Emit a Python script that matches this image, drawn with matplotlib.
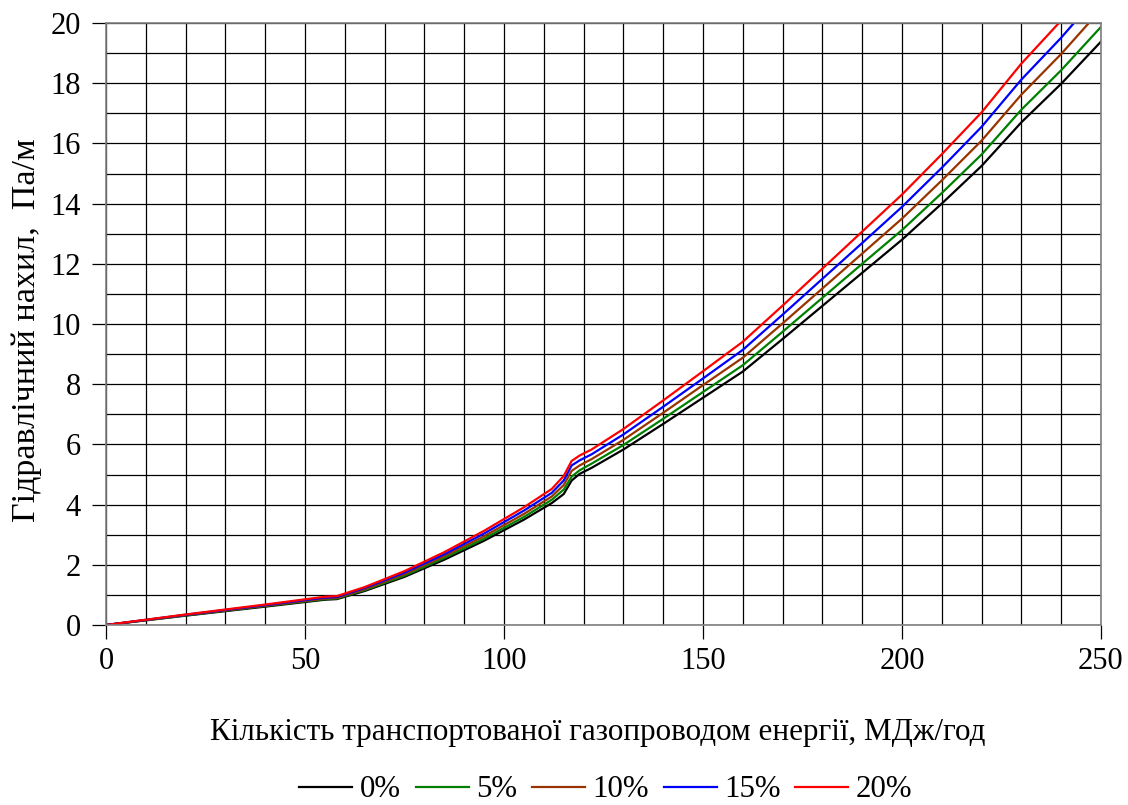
import matplotlib.pyplot as plt
import numpy as np

plt.rcParams['font.family'] = ['Liberation Serif', 'DejaVu Serif']

# energy flow, MJ/h
q = [0, 20, 40, 55, 58, 65, 75, 85, 95, 105, 112, 115, 117, 119, 122,
     130, 140, 150, 160, 170, 180, 190, 200, 210, 220, 230, 240, 250]

# hydraulic gradient, Pa/m, for each hydrogen share
h0 = [0, 0.31, 0.61, 0.84, 0.86, 1.13, 1.60, 2.17, 2.80, 3.50, 4.05, 4.35, 4.80, 5.02, 5.22,
      5.83, 6.68, 7.55, 8.42, 9.50, 10.60, 11.70, 12.80, 14.00, 15.25, 16.70, 17.98, 19.38]
h5 = [0, 0.32, 0.63, 0.86, 0.88, 1.16, 1.64, 2.23, 2.87, 3.59, 4.16, 4.50, 4.93, 5.14, 5.36,
      5.98, 6.85, 7.74, 8.63, 9.74, 10.87, 12.00, 13.12, 14.35, 15.63, 17.12, 18.43, 19.87]
h10 = [0, 0.33, 0.64, 0.88, 0.90, 1.19, 1.69, 2.29, 2.95, 3.69, 4.27, 4.65, 5.12, 5.30, 5.51,
       6.15, 7.05, 7.97, 8.88, 10.02, 11.18, 12.34, 13.50, 14.77, 16.09, 17.62, 18.97, 20.45]
h15 = [0, 0.34, 0.66, 0.91, 0.93, 1.23, 1.74, 2.35, 3.04, 3.80, 4.39, 4.80, 5.30, 5.47, 5.67,
       6.33, 7.25, 8.19, 9.14, 10.31, 11.50, 12.69, 13.89, 15.19, 16.55, 18.12, 19.51, 21.03]
h20 = [0, 0.35, 0.68, 0.94, 0.96, 1.26, 1.79, 2.42, 3.13, 3.91, 4.52, 4.95, 5.45, 5.63, 5.83,
       6.51, 7.46, 8.43, 9.41, 10.61, 11.84, 13.07, 14.30, 15.64, 17.03, 18.65, 20.08, 21.65]

labels = ['0%', '5%', '10%', '15%', '20%']
colors = ['black', '#008000', '#993300', '#0000ff', '#ff0000']

fig = plt.figure(figsize=(11.28, 8.05), dpi=100)
ax = fig.add_axes([0.094, 0.2236, 0.882, 0.7478])

for h, lab, c in zip([h0, h5, h10, h15, h20], labels, colors):
    ax.plot(q, h, color=c, lw=1.6, label=lab)

ax.set_xlim(0, 250)
ax.set_ylim(0, 20)
ax.set_xticks(np.arange(0, 251, 50))
ax.set_xticks(np.arange(0, 251, 10), minor=True)
ax.set_yticks(np.arange(0, 21, 2))
ax.set_yticks(np.arange(0, 21, 1), minor=True)
ax.grid(which='both', color='black', lw=0.9)
ax.tick_params(which='major', length=10, width=0.9, labelsize=22, pad=6, direction='out')
ax.tick_params(which='minor', length=0)
ax.tick_params(axis='y', pad=8)
for s in ax.spines.values():
    s.set_color('#808080')
    s.set_linewidth(1.2)
ax.set_axisbelow(True)

ax.set_xlabel('Кількість транспортованої газопроводом енергії, МДж/год', fontsize=22.4)
ax.xaxis.set_label_coords(0.4945, -0.155)
ax.set_ylabel('Гідравлічний нахил,  Па/м', fontsize=24.5)
ax.yaxis.set_label_coords(-0.064, 0.49)

ax.legend(loc='center', bbox_to_anchor=(0.5025, -0.274), ncol=5, frameon=False,
          fontsize=22.2, handlelength=1.72, handletextpad=0.25, columnspacing=0.47)

fig.savefig('out.png', dpi=100)
